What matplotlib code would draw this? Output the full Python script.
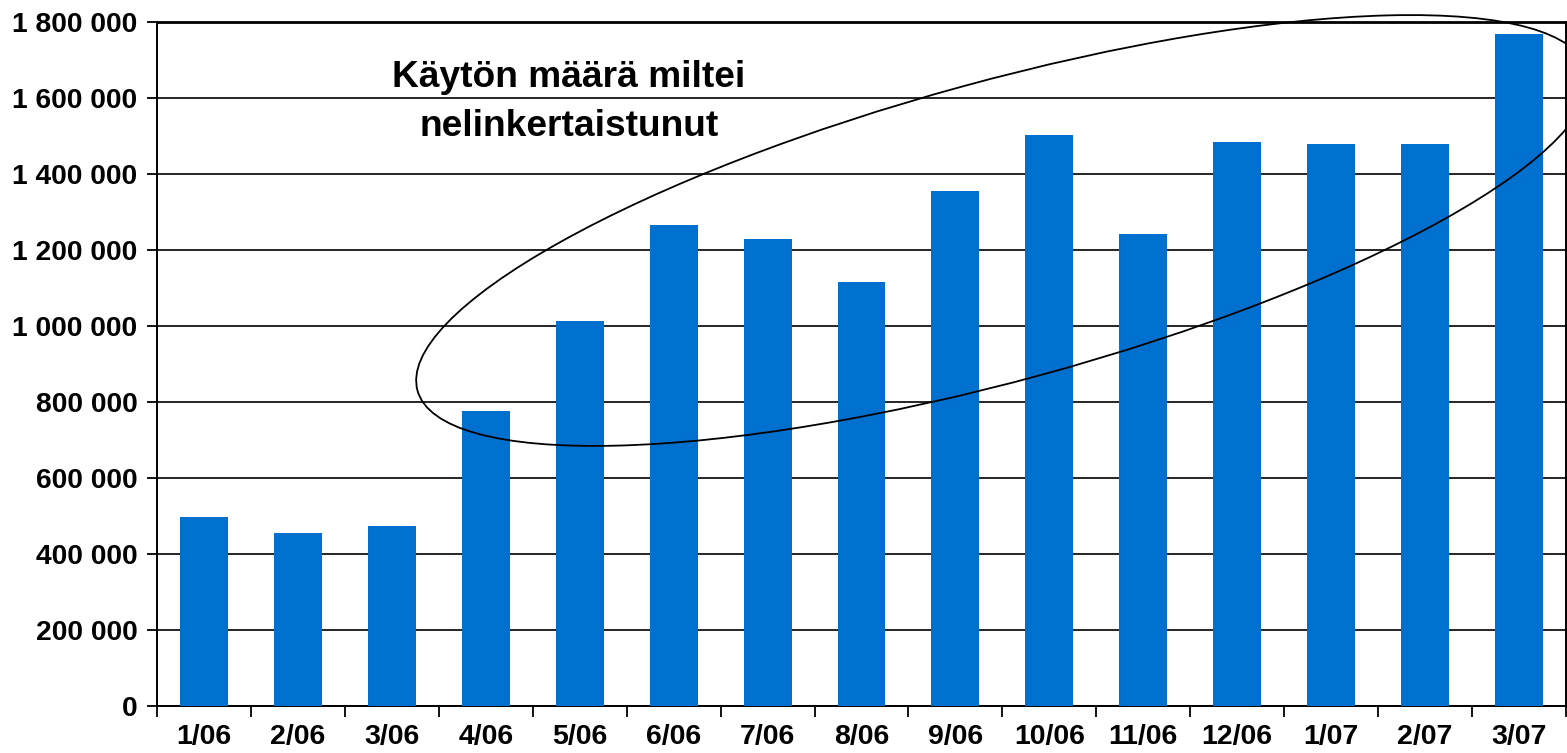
import matplotlib
matplotlib.use("Agg")
import matplotlib.pyplot as plt
from matplotlib.patches import Ellipse
from matplotlib.transforms import Affine2D

plt.rcParams['font.family'] = ['Liberation Sans', 'DejaVu Sans']

months = ["1/06", "2/06", "3/06", "4/06", "5/06", "6/06", "7/06", "8/06",
          "9/06", "10/06", "11/06", "12/06", "1/07", "2/07", "3/07"]
usage = [498000, 456000, 474000, 777000, 1012000, 1267000, 1228000, 1117000,
         1355000, 1502000, 1241000, 1484000, 1478000, 1478000, 1768000]
ytick_values = [0, 200000, 400000, 600000, 800000, 1000000, 1200000,
                1400000, 1600000, 1800000]
ytick_labels = ["0", "200 000", "400 000", "600 000", "800 000", "1 000 000",
                "1 200 000", "1 400 000", "1 600 000", "1 800 000"]
note_text = "Käytön määrä miltei\nnelinkertaistunut"

W, H, DPI = 1567, 753, 100
fig = plt.figure(figsize=(W / DPI, H / DPI), dpi=DPI)
ax = fig.add_axes([157 / W, (H - 706) / H, (1566 - 157) / W, (706 - 22) / H])

x = list(range(len(months)))
ax.bar(x, usage, width=0.51, color="#0070CF", zorder=3)

ax.set_xlim(-0.5, len(months) - 0.5)
ax.set_ylim(0, 1800000)
ax.set_yticks(ytick_values)
ax.set_yticklabels(ytick_labels, fontsize=20.3, fontweight="bold")
ax.set_xticks(x)
ax.set_xticklabels(months, fontsize=20.5, fontweight="bold")
ax.set_xticks([i + 0.5 for i in range(-1, len(months))], minor=True)
ax.tick_params(axis="x", which="major", length=0, pad=13)
ax.tick_params(axis="x", which="minor", length=8, width=1.3, direction="out")
ax.tick_params(axis="y", which="major", length=7, width=1.3, direction="out", pad=7)

ax.yaxis.grid(True, color="black", linewidth=1.2, zorder=0)
ax.set_axisbelow(True)
for s in ax.spines.values():
    s.set_linewidth(1.4)
    s.set_color("black")
ax.spines["top"].set_linewidth(2.0)

ax.text(569 / W, 1 - 102 / H, note_text, transform=fig.transFigure,
        ha="center", va="center", fontsize=26.7, fontweight="bold",
        linespacing=1.5)

pix = Affine2D().scale(1 / DPI) + fig.dpi_scale_trans
ell = Ellipse((1002.5, H - 230.5), 1213, 299, angle=15.3, fill=False,
              edgecolor="black", linewidth=1.3, transform=pix, clip_on=False,
              zorder=5)
fig.add_artist(ell)

fig.savefig("out.png", dpi=DPI)
